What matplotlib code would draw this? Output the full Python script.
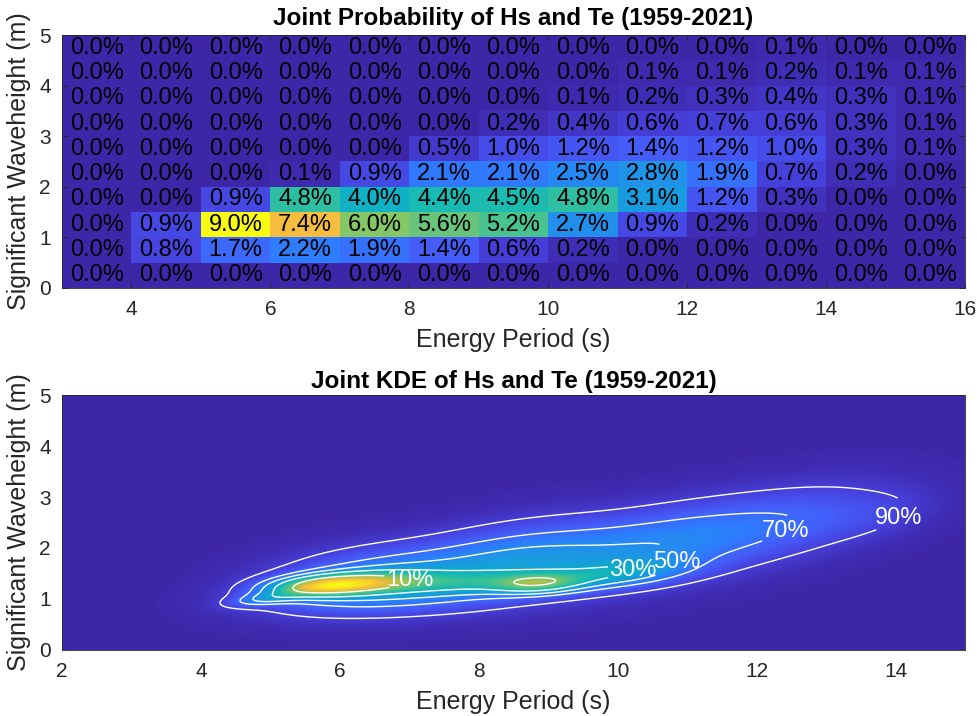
import numpy as np
import matplotlib.pyplot as plt
from matplotlib.colors import LinearSegmentedColormap

# ---------------- joint probability table (percent) ----------------
te_edges = np.arange(3, 17, 1)          # energy period bins (s)
hs_edges = np.arange(0, 5.5, 0.5)       # significant waveheight bins (m)

# rows go from Hs 0-0.5 (bottom) up to 4.5-5 (top), columns Te 3-4 ... 15-16
joint_pct = np.array([
    [0.0, 0.0, 0.0, 0.0, 0.0, 0.0, 0.0, 0.0, 0.0, 0.0, 0.0, 0.0, 0.0],
    [0.0, 0.8, 1.7, 2.2, 1.9, 1.4, 0.6, 0.2, 0.0, 0.0, 0.0, 0.0, 0.0],
    [0.0, 0.9, 9.0, 7.4, 6.0, 5.6, 5.2, 2.7, 0.9, 0.2, 0.0, 0.0, 0.0],
    [0.0, 0.0, 0.9, 4.8, 4.0, 4.4, 4.5, 4.8, 3.1, 1.2, 0.3, 0.0, 0.0],
    [0.0, 0.0, 0.0, 0.1, 0.9, 2.1, 2.1, 2.5, 2.8, 1.9, 0.7, 0.2, 0.0],
    [0.0, 0.0, 0.0, 0.0, 0.0, 0.5, 1.0, 1.2, 1.4, 1.2, 1.0, 0.3, 0.1],
    [0.0, 0.0, 0.0, 0.0, 0.0, 0.0, 0.2, 0.4, 0.6, 0.7, 0.6, 0.3, 0.1],
    [0.0, 0.0, 0.0, 0.0, 0.0, 0.0, 0.0, 0.1, 0.2, 0.3, 0.4, 0.3, 0.1],
    [0.0, 0.0, 0.0, 0.0, 0.0, 0.0, 0.0, 0.0, 0.1, 0.1, 0.2, 0.1, 0.1],
    [0.0, 0.0, 0.0, 0.0, 0.0, 0.0, 0.0, 0.0, 0.0, 0.0, 0.1, 0.0, 0.0],
])

# ---------------- KDE as a sum of gaussian bumps ----------------
# narrow core along the ridge, then wider bumps carrying the spread
kde_te = [5.75, 6.6, 7.8, 8.85, 10.0, 4.9, 6.4, 8.5, 10.7, 12.5, 13.8, 6.6]
kde_hs = [1.27, 1.33, 1.33, 1.31, 1.50, 1.00, 1.40, 1.75, 2.10, 2.50, 2.65, 0.95]
kde_te_sd = [0.55, 0.55, 0.7, 0.45, 0.7, 0.35, 1.0, 1.1, 1.1, 1.0, 0.6, 1.2]
kde_hs_sd = [0.15, 0.16, 0.17, 0.14, 0.20, 0.10, 0.42, 0.52, 0.56, 0.55, 0.35, 0.22]
kde_rho = [0.3, 0.3, 0.3, 0.2, 0.4, 0.5, 0.3, 0.4, 0.5, 0.5, 0.4, 0.2]
kde_amp = [0.52, 0.22, 0.17, 0.31, 0.20, 0.15, 0.20, 0.23, 0.18, 0.11, 0.04, 0.06]

hdr_pct = [90, 70, 50, 30, 10]
label_pos = [(14.05, 2.59), (12.6, 1.9), (11.5, 1.7), (10.65, 1.5), (7.0, 1.37)]

# parula-like colormap
parula = LinearSegmentedColormap.from_list("parula", [
    (0.00, (0.2422, 0.1504, 0.6603)),
    (0.08, (0.2780, 0.2570, 0.8700)),
    (0.16, (0.2690, 0.3700, 0.9830)),
    (0.25, (0.1700, 0.5000, 0.9900)),
    (0.33, (0.1100, 0.6000, 0.8900)),
    (0.42, (0.0500, 0.6800, 0.8000)),
    (0.50, (0.1000, 0.7350, 0.6900)),
    (0.58, (0.2900, 0.7650, 0.5600)),
    (0.67, (0.5300, 0.7750, 0.3900)),
    (0.75, (0.8000, 0.7450, 0.2600)),
    (0.83, (0.9800, 0.7400, 0.2400)),
    (0.92, (0.9700, 0.8700, 0.1500)),
    (1.00, (0.9769, 0.9839, 0.0805)),
])

plt.rcParams['font.family'] = ['Liberation Sans', 'DejaVu Sans']
TXT = '#262626'

fig = plt.figure(figsize=(9.78, 7.16), dpi=100)
ax1 = fig.add_axes([0.0634, 0.598, 0.9233, 0.353])
ax2 = fig.add_axes([0.0634, 0.0922, 0.9233, 0.3561])

# ---- top: binned joint probability ----
ax1.pcolormesh(te_edges, hs_edges, joint_pct, cmap=parula,
               vmin=0, vmax=joint_pct.max())
te_mid = (te_edges[:-1] + te_edges[1:]) / 2
hs_mid = (hs_edges[:-1] + hs_edges[1:]) / 2
for i, hs in enumerate(hs_mid):
    for j, te in enumerate(te_mid):
        ax1.text(te, hs, f"{joint_pct[i, j]:.1f}%", ha='center', va='center',
                 fontsize=17, color='black')
ax1.set_xlim(3, 16)
ax1.set_ylim(0, 5)
ax1.set_xticks([4, 6, 8, 10, 12, 14, 16])
ax1.set_yticks([0, 1, 2, 3, 4, 5])
ax1.set_title("Joint Probability of Hs and Te (1959-2021)", fontsize=17.5,
              fontweight='bold', pad=7)
ax1.set_axisbelow(False)

# ---- bottom: kernel density estimate ----
gx = np.linspace(2, 15, 521)
gy = np.linspace(0, 5, 301)
X, Y = np.meshgrid(gx, gy)
Z = np.zeros_like(X)
for mx, my, sx, sy, r, a in zip(kde_te, kde_hs, kde_te_sd, kde_hs_sd, kde_rho, kde_amp):
    dx = (X - mx) / sx
    dy = (Y - my) / sy
    q = (dx**2 - 2 * r * dx * dy + dy**2) / (1 - r**2)
    Z += a * np.exp(-0.5 * q)

ax2.pcolormesh(gx, gy, Z, cmap=parula, shading='gouraud', vmin=0, vmax=Z.max())

# density thresholds enclosing the given share of probability mass
zs = np.sort(Z.ravel())[::-1]
cum = np.cumsum(zs) / zs.sum()
for p, pos in zip(hdr_pct, label_pos):
    lv = zs[np.searchsorted(cum, p / 100)]
    cs = ax2.contour(gx, gy, Z, levels=[lv], colors='white', linewidths=1.0)
    lbl = ax2.clabel(cs, fmt={lv: f"{p}%"}, inline=True, fontsize=17,
                     colors='white', manual=[pos], inline_spacing=2)
    for t in lbl:
        t.set_rotation(0)
ax2.set_xlim(2, 15)
ax2.set_ylim(0, 5)
ax2.set_xticks([2, 4, 6, 8, 10, 12, 14])
ax2.set_yticks([0, 1, 2, 3, 4, 5])
ax2.set_title("Joint KDE of Hs and Te (1959-2021)", fontsize=17.5,
              fontweight='bold', pad=5)

for ax, tl in ((ax1, 4), (ax2, 0)):
    ax.set_xlabel("Energy Period (s)", fontsize=18, color=TXT, labelpad=6)
    ax.set_ylabel("Significant Waveheight (m)", fontsize=18, color=TXT, labelpad=6)
    ax.tick_params(direction='in', length=tl, width=0.6, labelsize=15,
                   colors=TXT, top=True, right=True, pad=9)
    ax.tick_params(axis='y', pad=8)
    for s in ax.spines.values():
        s.set_color('#262626')
        s.set_linewidth(0.6)

fig.savefig("out.png", dpi=100)
